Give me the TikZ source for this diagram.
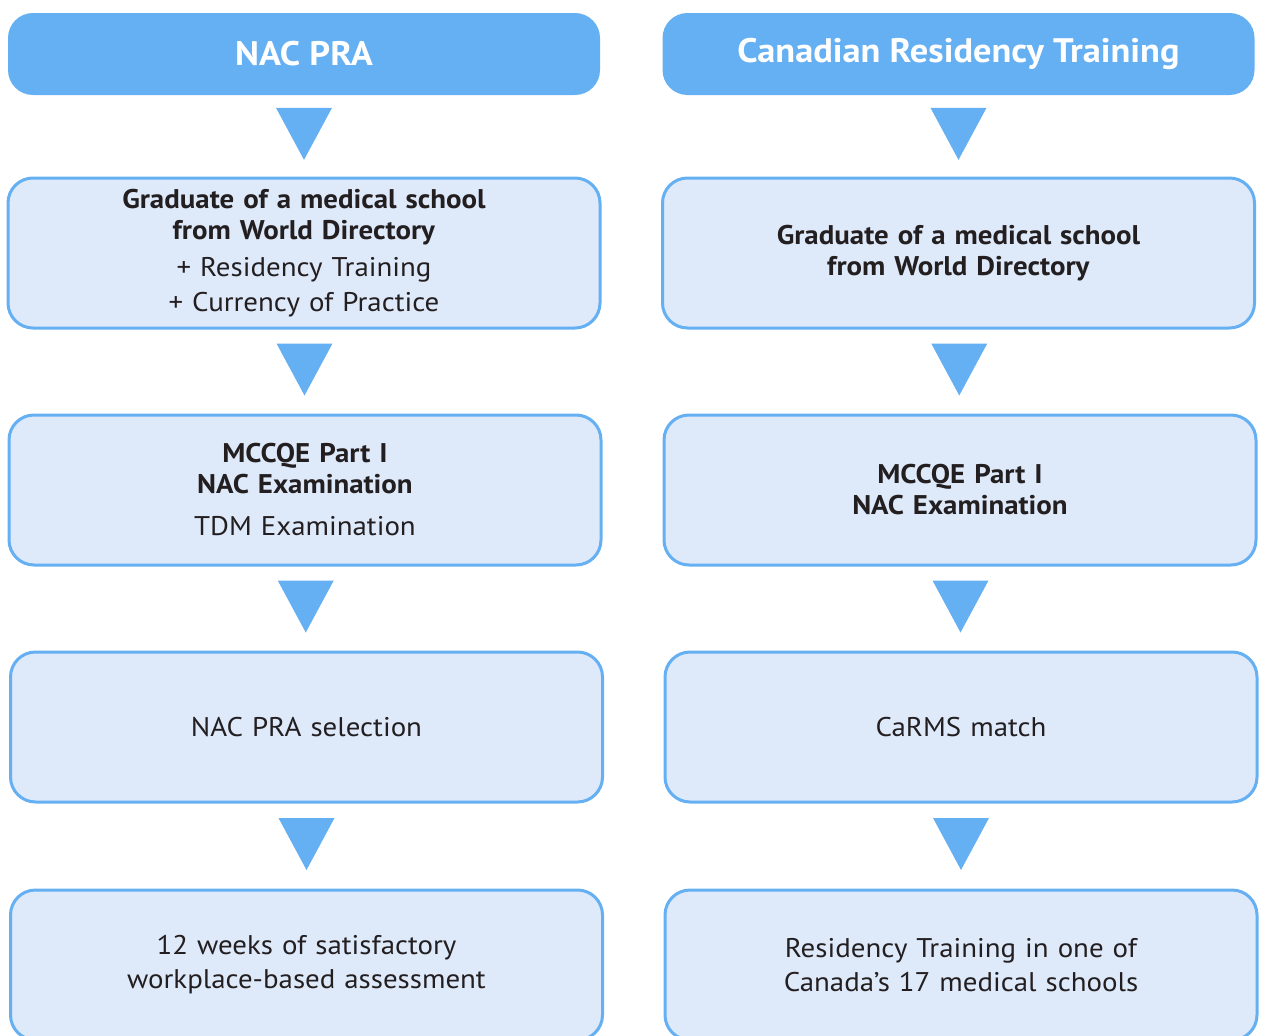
\documentclass[tikz,border=0pt]{standalone}
\usepackage{fontspec}
\setmainfont[FakeStretch=1.07]{PT Sans}
\usetikzlibrary{calc}
\definecolor{navblue}{RGB}{101,175,243}
\definecolor{stepfill}{RGB}{222,233,250}
\definecolor{ink}{RGB}{35,31,32}
% blue down-pointing triangle between two boxes
\newcommand\flowdown[2]{\fill[navblue] ($(#1.south)!0.5!(#2.north)$) ++(-28,28) -- ++(56,0) -- ++(-28,-52) -- cycle;}
\begin{document}
\begin{tikzpicture}[x=1pt, y=1pt, line join=round,
  head/.style={fill=navblue, rounded corners=25pt, minimum width=592pt, minimum height=82pt, inner sep=0pt, text=white, font=\fontsize{34}{36}\selectfont\bfseries},
  stepbox/.style={draw=navblue, line width=3pt, fill=stepfill, rounded corners=25pt, minimum width=592pt, minimum height=150pt, inner sep=0pt, text width=570pt, align=center, text=ink, font=\fontsize{27}{31}\selectfont}]
\useasboundingbox (0,0) rectangle (1262,-1036);
% left column
\node[head] (lhead) at (304,-54) {NAC PRA};
\node[stepbox] (lgrad) at (304,-253) {\textbf{Graduate of a medical school}\\ \textbf{from World Directory}\\[6pt] + Residency Training\\[4pt] + Currency of Practice};
\node[stepbox] (lexam) at (305,-490) {\textbf{MCCQE Part I}\\ \textbf{NAC Examination}\\[11pt] TDM Examination};
\node[stepbox] (lsel) at (306.5,-727) {NAC PRA selection};
\node[stepbox] (lwba) at (306.5,-965) {12 weeks of satisfactory\\[3pt] workplace-based assessment};
% right column
\node[head] (rhead) at (958.5,-54) {Canadian Residency Training};
\node[stepbox] (rgrad) at (958.5,-253) {\textbf{Graduate of a medical school}\\ \textbf{from World Directory}};
\node[stepbox] (rexam) at (960,-490) {\textbf{MCCQE Part I}\\ \textbf{NAC Examination}};
\node[stepbox] (rmatch) at (961,-727) {CaRMS match};
\node[stepbox] (rres) at (961,-965) {Residency Training in one of\\[3pt] Canada’s 17 medical schools};
\flowdown{lhead}{lgrad} \flowdown{lgrad}{lexam} \flowdown{lexam}{lsel} \flowdown{lsel}{lwba}
\flowdown{rhead}{rgrad} \flowdown{rgrad}{rexam} \flowdown{rexam}{rmatch} \flowdown{rmatch}{rres}
\end{tikzpicture}
\end{document}
